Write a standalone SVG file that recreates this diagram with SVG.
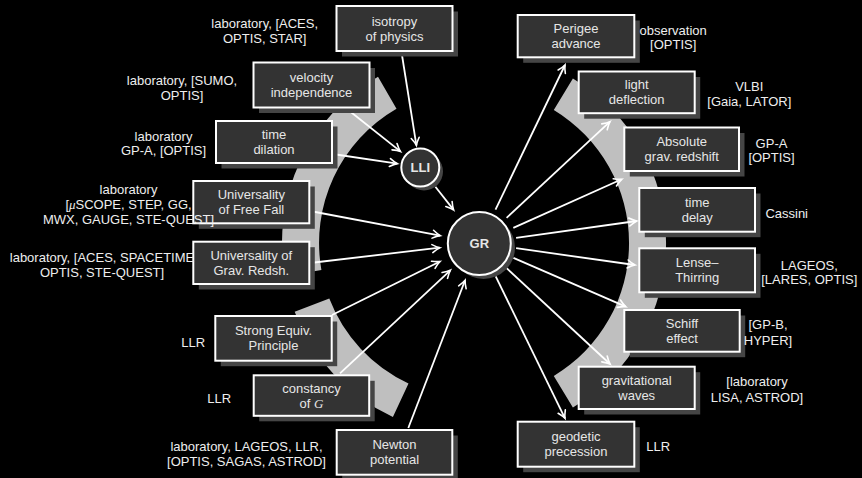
<svg xmlns="http://www.w3.org/2000/svg" width="862" height="478" viewBox="0 0 862 478">
  <defs>
    <style>
      .band { fill: #bfbfbf; }
      .shadow { fill: #454545; }
      .box { fill: #333333; stroke: #ffffff; stroke-width: 2; }
      .btxt { font-family: "Liberation Sans", Arial, sans-serif; font-size: 13px; fill: #e6e6e6; text-anchor: middle; }
      .lbl { font-family: "Liberation Sans", Arial, sans-serif; font-size: 13px; fill: #eeeeee; text-anchor: middle; }
      .ctr { font-family: "Liberation Sans", Arial, sans-serif; font-size: 13px; font-weight: bold; fill: #e6e6e6; text-anchor: middle; }
      .math { font-family: "Liberation Serif", "Times New Roman", serif; font-style: italic; }
      .conn line { stroke: #ffffff; stroke-width: 1.8; marker-end: url(#tip); }
    </style>
    <marker id="tip" markerUnits="userSpaceOnUse" viewBox="-10 -6 12 12" markerWidth="12" markerHeight="12" refX="0" refY="0" orient="auto" overflow="visible">
      <path d="M-7.5,-4 Q-3,-1 0,0 Q-3,1 -7.5,4" fill="none" stroke="#ffffff" stroke-width="1.6" stroke-linecap="round"/>
    </marker>
  </defs>

  <rect x="0" y="0" width="862" height="478" fill="#000000"/>

  <!-- grey ring segments around GR -->
  <g id="bands">
    <path class="band" d="M572.9,78.4 A192,192 0 0 1 572.9,407.6 L553.8,375.9 A155,155 0 0 0 553.8,110.1 Z"/>
    <path class="band" d="M284.9,276.3 A192,192 0 0 1 378,76.7 L396.5,108.8 A155,155 0 0 0 321.4,269.9 Z"/>
    <path class="band" d="M392.9,417 A192,192 0 0 1 294.7,311.8 L329.3,298.6 A155,155 0 0 0 408.5,383.5 Z"/>
  </g>

  <!-- connectors -->
  <g id="connectors" class="conn">
    <line x1="401.5" y1="52" x2="416.4" y2="145.3"/>
    <line x1="347" y1="109" x2="400.4" y2="151.4"/>
    <line x1="332.7" y1="154" x2="397.3" y2="163.6"/>
    <line x1="435.4" y1="186.7" x2="453.6" y2="209.9"/>
    <line x1="310" y1="211" x2="440.2" y2="235.6"/>
    <line x1="310" y1="263" x2="439.8" y2="247.7"/>
    <line x1="332" y1="315" x2="440" y2="261.5"/>
    <line x1="340" y1="373.3" x2="450.3" y2="270.3"/>
    <line x1="408.3" y1="428" x2="465.1" y2="280.3"/>
    <line x1="495.5" y1="209.7" x2="565" y2="65"/>
    <line x1="506.6" y1="217.8" x2="610" y2="121.7"/>
    <line x1="513.3" y1="227.9" x2="621.7" y2="179.3"/>
    <line x1="516.1" y1="237.9" x2="636.7" y2="221"/>
    <line x1="516.1" y1="248.2" x2="635" y2="265"/>
    <line x1="513.4" y1="257.8" x2="625.7" y2="306.7"/>
    <line x1="506.6" y1="268.2" x2="610" y2="364"/>
    <line x1="495.7" y1="276.3" x2="565" y2="418.3"/>
  </g>

  <!-- central nodes -->
  <g id="node-lli">
    <circle cx="424" cy="171.5" r="19" class="shadow"/>
    <circle cx="420.3" cy="167.5" r="19" class="box"/>
    <text x="420.3" y="172" class="ctr">LLI</text>
  </g>
  <g id="node-gr">
    <circle cx="483.5" cy="247.5" r="31.5" class="shadow"/>
    <circle cx="479.3" cy="243.5" r="31.5" class="box"/>
    <text x="479.3" y="248" class="ctr">GR</text>
  </g>

  <!-- left column -->
  <g id="node-isotropy">
    <rect x="342" y="11.5" width="116" height="45" class="shadow"/>
    <rect x="336.5" y="6" width="116" height="45" class="box"/>
    <text class="btxt" x="394.5"><tspan x="394.5" y="25.5">isotropy</tspan><tspan x="394.5" y="40.5">of physics</tspan></text>
  </g>
  <g id="node-velocity">
    <rect x="259" y="68" width="116" height="45" class="shadow"/>
    <rect x="253.5" y="62.5" width="116" height="45" class="box"/>
    <text class="btxt"><tspan x="311.5" y="82">velocity</tspan><tspan x="311.5" y="97">independence</tspan></text>
  </g>
  <g id="node-timedilation">
    <rect x="221.5" y="126.5" width="116" height="42" class="shadow"/>
    <rect x="216" y="121" width="116" height="42" class="box"/>
    <text class="btxt"><tspan x="274" y="139">time</tspan><tspan x="274" y="154">dilation</tspan></text>
  </g>
  <g id="node-uff">
    <rect x="198.8" y="186.5" width="116" height="42.3" class="shadow"/>
    <rect x="193.3" y="181" width="116" height="42.3" class="box"/>
    <text class="btxt"><tspan x="251.3" y="199">Universality</tspan><tspan x="251.3" y="214">of Free Fall</tspan></text>
  </g>
  <g id="node-ugr">
    <rect x="198.8" y="247.2" width="116" height="42.3" class="shadow"/>
    <rect x="193.3" y="241.7" width="116" height="42.3" class="box"/>
    <text class="btxt"><tspan x="251.3" y="259.8">Universality of</tspan><tspan x="251.3" y="274.8">Grav. Redsh.</tspan></text>
  </g>
  <g id="node-sep">
    <rect x="220.8" y="321.5" width="116.4" height="44.7" class="shadow"/>
    <rect x="215.3" y="316" width="116.4" height="44.7" class="box"/>
    <text class="btxt"><tspan x="273.5" y="335.3">Strong Equiv.</tspan><tspan x="273.5" y="350.3">Principle</tspan></text>
  </g>
  <g id="node-constancy">
    <rect x="259.2" y="380.8" width="115.5" height="40.5" class="shadow"/>
    <rect x="253.7" y="375.3" width="115.5" height="40.5" class="box"/>
    <text class="btxt"><tspan x="311.5" y="392.5">constancy</tspan><tspan x="311.5" y="407.5">of <tspan class="math">G</tspan></tspan></text>
  </g>
  <g id="node-newton">
    <rect x="342.2" y="435.5" width="115.6" height="44.7" class="shadow"/>
    <rect x="336.7" y="430" width="115.6" height="44.7" class="box"/>
    <text class="btxt"><tspan x="394.5" y="449.3">Newton</tspan><tspan x="394.5" y="464.3">potential</tspan></text>
  </g>

  <!-- right column -->
  <g id="node-perigee">
    <rect x="523.2" y="20.5" width="116.6" height="42.3" class="shadow"/>
    <rect x="517.7" y="15" width="116.6" height="42.3" class="box"/>
    <text class="btxt"><tspan x="576" y="33">Perigee</tspan><tspan x="576" y="48">advance</tspan></text>
  </g>
  <g id="node-light">
    <rect x="584.2" y="77" width="116" height="41.7" class="shadow"/>
    <rect x="578.7" y="71.5" width="116" height="41.7" class="box"/>
    <text class="btxt"><tspan x="636.7" y="89.3">light</tspan><tspan x="636.7" y="104.3">deflection</tspan></text>
  </g>
  <g id="node-redshift">
    <rect x="629.8" y="133" width="114.7" height="43.5" class="shadow"/>
    <rect x="624.3" y="127.5" width="114.7" height="43.5" class="box"/>
    <text class="btxt"><tspan x="681.7" y="146.2">Absolute</tspan><tspan x="681.7" y="161.2">grav.  redshift</tspan></text>
  </g>
  <g id="node-timedelay">
    <rect x="644.8" y="193.5" width="115.7" height="43.7" class="shadow"/>
    <rect x="639.3" y="188" width="115.7" height="43.7" class="box"/>
    <text class="btxt"><tspan x="697.2" y="206.8">time</tspan><tspan x="697.2" y="221.8">delay</tspan></text>
  </g>
  <g id="node-lense">
    <rect x="644.8" y="253.8" width="115.7" height="44" class="shadow"/>
    <rect x="639.3" y="248.3" width="115.7" height="44" class="box"/>
    <text class="btxt"><tspan x="697.2" y="267.3">Lense–</tspan><tspan x="697.2" y="282.3">Thirring</tspan></text>
  </g>
  <g id="node-schiff">
    <rect x="629.8" y="315.5" width="115.4" height="41.7" class="shadow"/>
    <rect x="624.3" y="310" width="115.4" height="41.7" class="box"/>
    <text class="btxt"><tspan x="682" y="327.8">Schiff</tspan><tspan x="682" y="342.8">effect</tspan></text>
  </g>
  <g id="node-waves">
    <rect x="584.2" y="372.2" width="116" height="42.3" class="shadow"/>
    <rect x="578.7" y="366.7" width="116" height="42.3" class="box"/>
    <text class="btxt"><tspan x="636.7" y="384.8">gravitational</tspan><tspan x="636.7" y="399.8">waves</tspan></text>
  </g>
  <g id="node-geodetic">
    <rect x="523.2" y="427.2" width="116.6" height="45" class="shadow"/>
    <rect x="517.7" y="421.7" width="116.6" height="45" class="box"/>
    <text class="btxt"><tspan x="576" y="441.2">geodetic</tspan><tspan x="576" y="456.2">precession</tspan></text>
  </g>

  <!-- experiment annotations -->
  <g id="labels" class="lbl">
    <text><tspan x="264.7" y="28">laboratory, [ACES,</tspan><tspan x="264.7" y="43">OPTIS, STAR]</tspan></text>
    <text><tspan x="182" y="84.5">laboratory, [SUMO,</tspan><tspan x="182" y="99.5">OPTIS]</tspan></text>
    <text><tspan x="163.5" y="140.5">laboratory</tspan><tspan x="163.5" y="155">GP-A, [OPTIS]</tspan></text>
    <text><tspan x="128.5" y="193.5">laboratory</tspan><tspan x="128.5" y="208.5">[<tspan class="math">μ</tspan>SCOPE, STEP, GG,</tspan><tspan x="128.5" y="223.5">MWX, GAUGE, STE-QUEST]</tspan></text>
    <text><tspan x="102" y="262">laboratory, [ACES, SPACETIME</tspan><tspan x="102" y="277">OPTIS, STE-QUEST]</tspan></text>
    <text x="193.3" y="346.5">LLR</text>
    <text x="219.3" y="403">LLR</text>
    <text><tspan x="246.5" y="450.5">laboratory, LAGEOS, LLR,</tspan><tspan x="246.5" y="465.5">[OPTIS, SAGAS, ASTROD]</tspan></text>

    <text><tspan x="673.2" y="35">observation</tspan><tspan x="673.2" y="49">[OPTIS]</tspan></text>
    <text><tspan x="749.3" y="91">VLBI</tspan><tspan x="749.3" y="106">[Gaia, LATOR]</tspan></text>
    <text><tspan x="771.5" y="148">GP-A</tspan><tspan x="771.5" y="162">[OPTIS]</tspan></text>
    <text x="786.7" y="218">Cassini</text>
    <text><tspan x="809.3" y="269.5">LAGEOS,</tspan><tspan x="809.3" y="283.5">[LARES, OPTIS]</tspan></text>
    <text><tspan x="768" y="328.5">[GP-B,</tspan><tspan x="768" y="344.5">HYPER]</tspan></text>
    <text><tspan x="757" y="386">[laboratory</tspan><tspan x="757" y="401.5">LISA, ASTROD]</tspan></text>
    <text x="658.3" y="451">LLR</text>
  </g>
</svg>
